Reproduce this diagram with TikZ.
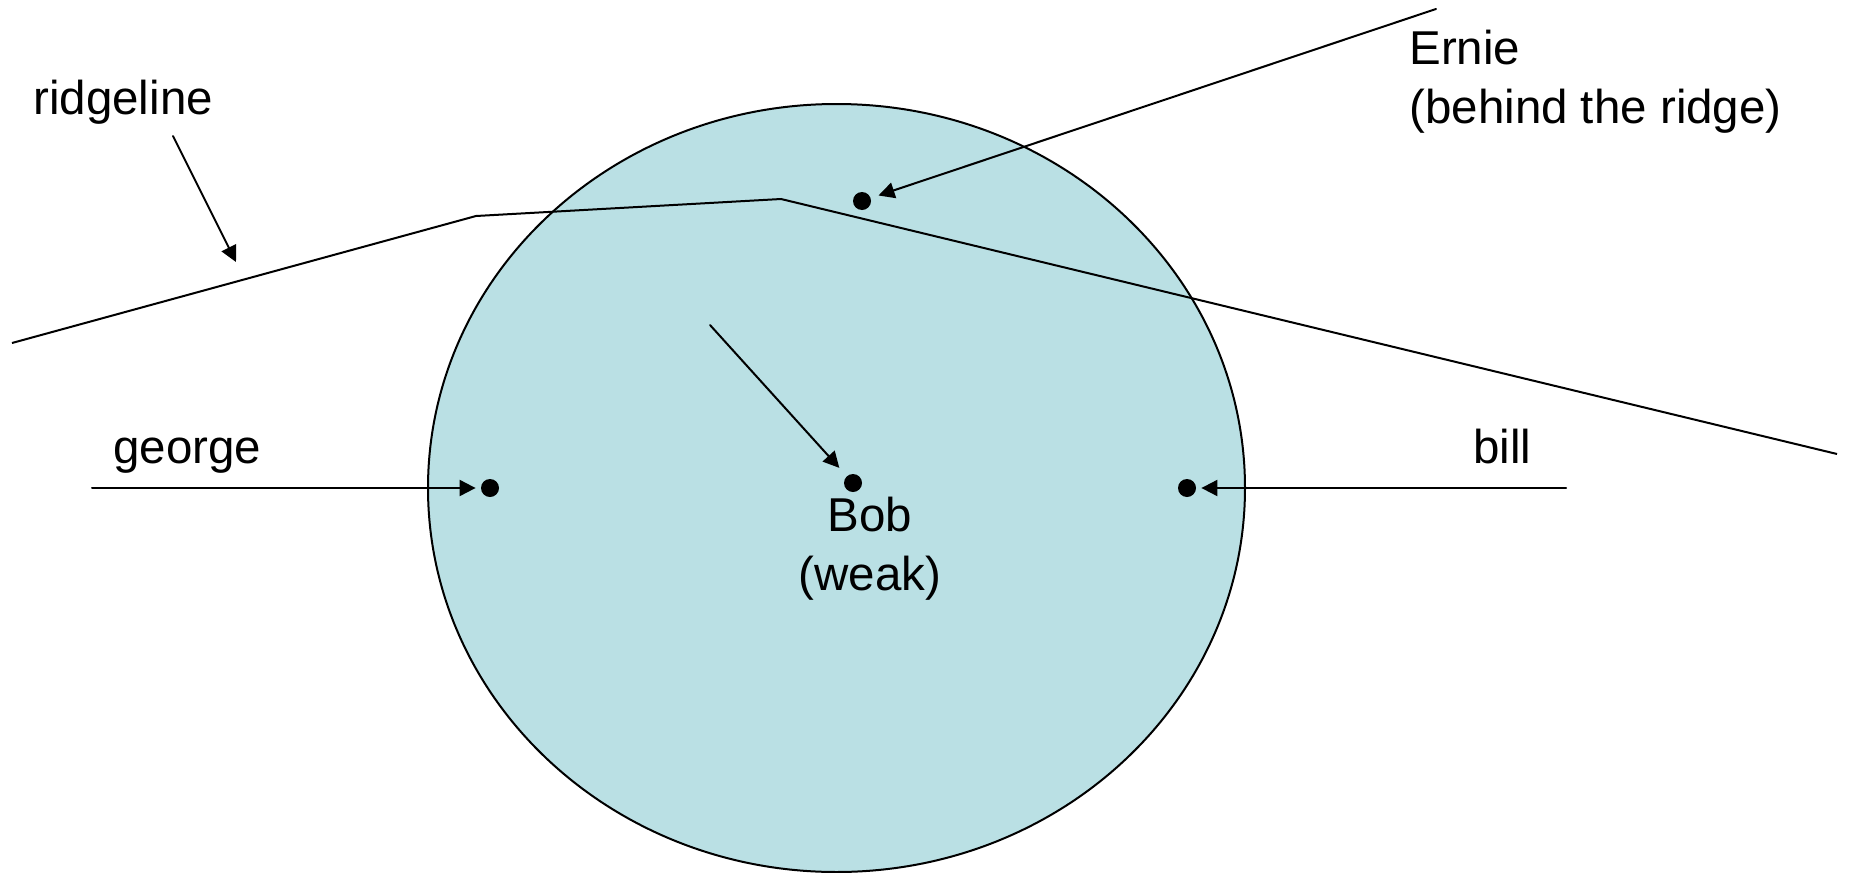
\documentclass[tikz,border=0pt]{standalone}
\usepackage{fontspec}
\setmainfont{Liberation Sans}
\usetikzlibrary{arrows.meta}
\definecolor{zonefill}{RGB}{186,224,228}
\begin{document}
\begin{tikzpicture}[x=0.5pt,y=-0.5pt,
  lbl/.style={inner sep=0pt,font=\fontsize{23.75pt}{29.5pt}\selectfont},
  dotnode/.style={circle,fill=black,minimum size=9pt,inner sep=0pt},
  ln/.style={line width=1pt,line cap=round},
  arr/.style={ln,-{Triangle[length=8pt,width=8pt]}}]
\useasboundingbox (0,0) rectangle (1849,873);
% zone
\draw[fill=zonefill,line width=1pt] (836.5,488) ellipse [x radius=408.5, y radius=384];
% ridge
\coordinate (r1) at (12,343);
\coordinate (r2) at (476,216);
\coordinate (r3) at (781,199);
\coordinate (r4) at (1837,454);
\draw[ln,line cap=butt] (r1) -- (r2) -- (r3) -- (r4);
% dots
\node[dotnode] (ernie) at (862,201) {};
\node[dotnode] (bob) at (853,483) {};
\node[dotnode] (george) at (490,488) {};
\node[dotnode] (bill) at (1187,488) {};
% labels
\node[lbl,anchor=west] (ridgelbl) at (33,102) {ridgeline};
\node[lbl,anchor=west,align=left] (ernielbl) at (1409,82) {Ernie\\(behind the ridge)};
\node[lbl,align=center] (boblbl) at (870,549) {Bob\\(weak)};
\node[lbl,anchor=base west] (georgelbl) at (113,463) {george};
\node[lbl,anchor=base west] (billlbl) at (1473,463) {bill};
% arrows
\coordinate (ra) at (173,136);
\coordinate (rb) at (236,262);
\draw[arr] (ra) -- (rb);
\coordinate (es) at (1436,9);
\draw[arr,shorten >=4pt] (es) -- (ernie);
\coordinate (bs) at (710,325);
\draw[arr,shorten >=5.5pt] (bs) -- (bob);
\coordinate (gs) at (92,488);
\draw[arr,shorten >=2.5pt] (gs) -- (george);
\coordinate (bls) at (1566,488);
\draw[arr,shorten >=2.5pt] (bls) -- (bill);
\end{tikzpicture}
\end{document}
